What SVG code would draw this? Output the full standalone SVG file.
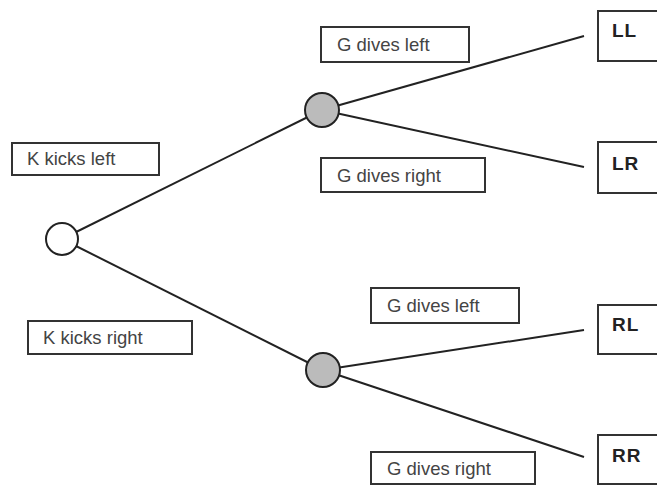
<svg xmlns="http://www.w3.org/2000/svg" width="657" height="488" viewBox="0 0 657 488">
<style>
.box{fill:#fff;stroke:#333;stroke-width:2}
.lbl{font-family:"Liberation Sans",Arial,sans-serif;font-size:18.5px;fill:#444}
.out{font-family:"Liberation Sans",Arial,sans-serif;font-size:19px;font-weight:bold;fill:#222;letter-spacing:1px}
.edge{stroke:#222;stroke-width:2;fill:none}
.chance{fill:#bbb;stroke:#222;stroke-width:2}
.dec{fill:#fff;stroke:#222;stroke-width:2}
</style>
<rect width="657" height="488" fill="#fff"/>
<g id="connectors">
<line class="edge" x1="62" y1="239" x2="322" y2="110"/>
<line class="edge" x1="62" y1="239" x2="323" y2="370"/>
<line class="edge" x1="322" y1="110" x2="584" y2="36"/>
<line class="edge" x1="322" y1="110" x2="584" y2="167"/>
<line class="edge" x1="323" y1="370" x2="584" y2="330"/>
<line class="edge" x1="323" y1="370" x2="584" y2="457"/>
</g>
<g id="lbl-k-left"><rect class="box" x="12" y="143" width="147" height="32"/><text class="lbl" x="27" y="165">K kicks left</text></g>
<g id="lbl-k-right"><rect class="box" x="28" y="321" width="164" height="33"/><text class="lbl" x="43" y="344">K kicks right</text></g>
<g id="lbl-g-left-1"><rect class="box" x="321" y="27" width="148" height="35"/><text class="lbl" x="337" y="51">G dives left</text></g>
<g id="lbl-g-right-1"><rect class="box" x="321" y="158" width="164" height="34"/><text class="lbl" x="337" y="182">G dives right</text></g>
<g id="lbl-g-left-2"><rect class="box" x="371" y="288" width="148" height="35"/><text class="lbl" x="387" y="312">G dives left</text></g>
<g id="lbl-g-right-2"><rect class="box" x="371" y="452" width="164" height="32"/><text class="lbl" x="387" y="475">G dives right</text></g>
<g id="root"><circle class="dec" cx="62" cy="239" r="16"/></g>
<g id="g-node-1"><circle class="chance" cx="322" cy="110" r="17"/></g>
<g id="g-node-2"><circle class="chance" cx="323" cy="370" r="17"/></g>
<g id="out-ll"><rect class="box" x="598" y="11" width="70" height="50"/><text class="out" x="612" y="37">LL</text></g>
<g id="out-lr"><rect class="box" x="598" y="142" width="70" height="51"/><text class="out" x="612" y="170">LR</text></g>
<g id="out-rl"><rect class="box" x="598" y="305" width="70" height="49"/><text class="out" x="612" y="331">RL</text></g>
<g id="out-rr"><rect class="box" x="598" y="435" width="70" height="49"/><text class="out" x="612" y="462">RR</text></g>
</svg>
